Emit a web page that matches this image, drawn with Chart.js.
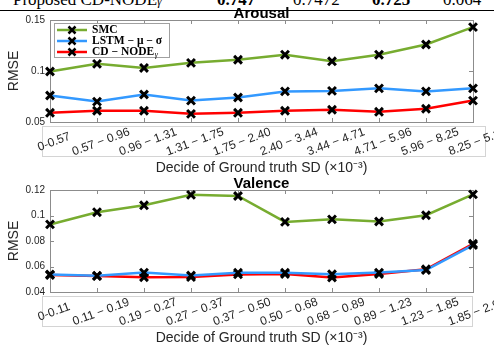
<!DOCTYPE html>
<html>
<head>
<meta charset="utf-8">
<script src="https://cdn.jsdelivr.net/npm/chart.js@4.4.1/dist/chart.umd.min.js"></script>
<style>
body { margin: 0; background: #fff; width: 494px; height: 347px; overflow: hidden; position: relative; }
.hd { position: absolute; top: -9px; font: 17px/17px 'Liberation Serif', serif; white-space: nowrap; color: #000; }
.hd.b { font-weight: bold; }
#rule { position: absolute; left: 0; top: 10px; width: 494px; height: 1px; background: #000; }
#arousal { position: absolute; left: 0; top: 0; }
#valence { position: absolute; left: 0; top: 176px; }
</style>
</head>
<body>
<span class="hd" style="left:13px">Proposed CD-NODE<i style="font-size:12px">γ</i></span>
<span class="hd b" style="left:217px">0.747</span>
<span class="hd" style="left:293px">0.7472</span>
<span class="hd b" style="left:372px">0.725</span>
<span class="hd" style="left:443px">0.064</span>
<div id="rule"></div>
<canvas id="arousal" width="494" height="177"></canvas>
<canvas id="valence" width="494" height="171"></canvas>
<script>
const seriesNames = ['SMC', 'LSTM − μ − σ', 'CD − NODE_γ'];
const seriesColors = ['#77AC30', '#3399FF', '#FF0000'];

const arousalLabels = ['0-0.57', '0.57 − 0.96', '0.96 − 1.31', '1.31 − 1.75', '1.75 − 2.40',
  '2.40 − 3.44', '3.44 − 4.71', '4.71 − 5.96', '5.96 − 8.25', '8.25 − 5.11'];
const arousalSMC  = [0.0995, 0.107, 0.103, 0.108, 0.111, 0.116, 0.1095, 0.116, 0.126, 0.143];
const arousalLSTM = [0.076, 0.070, 0.077, 0.071, 0.074, 0.080, 0.0805, 0.083, 0.080, 0.083];
const arousalCD   = [0.059, 0.061, 0.061, 0.058, 0.059, 0.061, 0.062, 0.060, 0.063, 0.071];

const valenceLabels = ['0-0.11', '0.11 − 0.19', '0.19 − 0.27', '0.27 − 0.37', '0.37 − 0.50',
  '0.50 − 0.68', '0.68 − 0.89', '0.89 − 1.23', '1.23 − 1.85', '1.85 − 2.90'];
const valenceSMC  = [0.093, 0.1026, 0.108, 0.1162, 0.1153, 0.095, 0.097, 0.0953, 0.1002, 0.1166];
const valenceLSTM = [0.0537, 0.0527, 0.0552, 0.0529, 0.0551, 0.0551, 0.0539, 0.0552, 0.0572, 0.0768];
const valenceCD   = [0.0533, 0.0525, 0.0516, 0.0517, 0.0538, 0.0541, 0.0514, 0.0541, 0.0578, 0.0778];

const SANS = "'Liberation Sans', Arial, sans-serif";

// box, inner ticks, title, slanted tick labels, legend
const frame = {
  id: 'frame',
  beforeDatasetsDraw(chart, args, opts) {
    const { ctx, chartArea: a, scales: { x, y } } = chart;
    ctx.save();
    ctx.lineWidth = 1;
    ctx.strokeStyle = '#d4d4d4';
    ctx.strokeRect(a.left - 7.5, a.bottom + 4.5, a.right - a.left + 7 + opts.boxRight, 30);
    ctx.strokeStyle = '#8c8c8c';
    ctx.strokeRect(a.left + 0.5, a.top + 0.5, a.right - a.left, a.bottom - a.top);
    ctx.beginPath();
    x.ticks.forEach((t, i) => {
      const px = Math.round(x.getPixelForTick(i)) + 0.5;
      ctx.moveTo(px, a.top); ctx.lineTo(px, a.top + 4);
      ctx.moveTo(px, a.bottom); ctx.lineTo(px, a.bottom - 4);
    });
    y.ticks.forEach((t, i) => {
      const py = Math.round(y.getPixelForTick(i)) + 0.5;
      ctx.moveTo(a.left, py); ctx.lineTo(a.left + 4, py);
      ctx.moveTo(a.right, py); ctx.lineTo(a.right - 4, py);
    });
    ctx.stroke();

    ctx.fillStyle = '#000';
    ctx.font = 'bold 15px ' + SANS;
    ctx.textAlign = 'center';
    ctx.textBaseline = 'middle';
    ctx.fillText(opts.title, (a.left + a.right) / 2, a.top - 6);

    x.ticks.forEach((t, i) => {
      ctx.save();
      ctx.translate(x.getPixelForTick(i) + 4, a.bottom + 20);
      ctx.rotate(-20 * Math.PI / 180);
      ctx.font = '12px ' + SANS;
      ctx.fillStyle = '#262626';
      ctx.textAlign = 'center';
      ctx.textBaseline = 'middle';
      ctx.fillText(chart.data.labels[i], 0, 0);
      ctx.restore();
    });
    ctx.restore();
  },
  afterDatasetsDraw(chart, args, opts) {
    if (!opts.legend) return;
    const { ctx, chartArea: a } = chart;
    const bx = a.left + 4, by = a.top + 3;
    ctx.save();
    ctx.fillStyle = '#fff';
    ctx.fillRect(bx, by, 115, 34);
    ctx.strokeStyle = '#a0a0a0';
    ctx.lineWidth = 1;
    ctx.strokeRect(bx + 0.5, by + 0.5, 115, 34);
    chart.data.datasets.forEach((ds, i) => {
      const yy = by + 7 + i * 11;
      ctx.strokeStyle = ds.borderColor;
      ctx.lineWidth = 2.5;
      ctx.beginPath(); ctx.moveTo(bx + 3, yy); ctx.lineTo(bx + 33, yy); ctx.stroke();
      ctx.strokeStyle = '#000';
      ctx.lineWidth = 2.5;
      ctx.beginPath();
      ctx.moveTo(bx + 14.5, yy - 3.5); ctx.lineTo(bx + 21.5, yy + 3.5);
      ctx.moveTo(bx + 21.5, yy - 3.5); ctx.lineTo(bx + 14.5, yy + 3.5);
      ctx.stroke();
      const [main, sub] = ds.label.split('_');
      ctx.fillStyle = '#000';
      ctx.textBaseline = 'middle';
      ctx.textAlign = 'left';
      ctx.font = 'bold 11.5px "Liberation Serif", serif';
      ctx.fillText(main, bx + 38, yy);
      if (sub) {
        const w = ctx.measureText(main).width;
        ctx.font = 'italic 8px "Liberation Serif", serif';
        ctx.fillText(sub, bx + 38 + w + 0.5, yy + 3);
      }
    });
    ctx.restore();
  }
};

function makeChart(id, labels, series, yMin, yMax, step, padTop, opts) {
  return new Chart(document.getElementById(id), {
    type: 'line',
    data: {
      labels: labels,
      datasets: series.map((vals, i) => ({
        label: seriesNames[i],
        data: vals,
        borderColor: seriesColors[i],
        backgroundColor: seriesColors[i],
        borderWidth: 2.5,
        pointStyle: 'crossRot',
        pointRadius: 5.5,
        pointBorderColor: '#000',
        pointBorderWidth: 3,
        tension: 0,
        clip: false
      }))
    },
    options: {
      responsive: false,
      animation: false,
      layout: { padding: { top: padTop, right: 21, left: 0, bottom: 0 } },
      plugins: { legend: { display: false }, tooltip: { enabled: false }, frame: opts },
      scales: {
        x: {
          offset: false,
          ticks: { display: false },
          grid: { display: false, drawTicks: false },
          border: { display: false },
          title: {
            display: true, text: 'Decide of Ground truth SD (×10⁻³)',
            font: { family: SANS, size: 14 }, color: '#262626', padding: 0
          },
          afterFit(s) { s.height = 55; }
        },
        y: {
          min: yMin, max: yMax,
          ticks: {
            stepSize: step, font: { family: SANS, size: 10 }, color: '#262626', padding: 5,
            callback: v => String(+v.toFixed(4))
          },
          grid: { display: false, drawTicks: false },
          border: { display: false },
          title: {
            display: true, text: 'RMSE',
            font: { family: SANS, size: 14 }, color: '#262626', padding: { top: 6, bottom: 0 }
          },
          afterFit(s) { s.width = 50; }
        }
      }
    },
    plugins: [frame]
  });
}

makeChart('arousal', arousalLabels, [arousalSMC, arousalLSTM, arousalCD], 0.05, 0.15, 0.05, 20,
  { title: 'Arousal', legend: true, boxRight: 13 });
makeChart('valence', valenceLabels, [valenceSMC, valenceLSTM, valenceCD], 0.04, 0.12, 0.02, 14,
  { title: 'Valence', legend: false, boxRight: 0 });
</script>
</body>
</html>
